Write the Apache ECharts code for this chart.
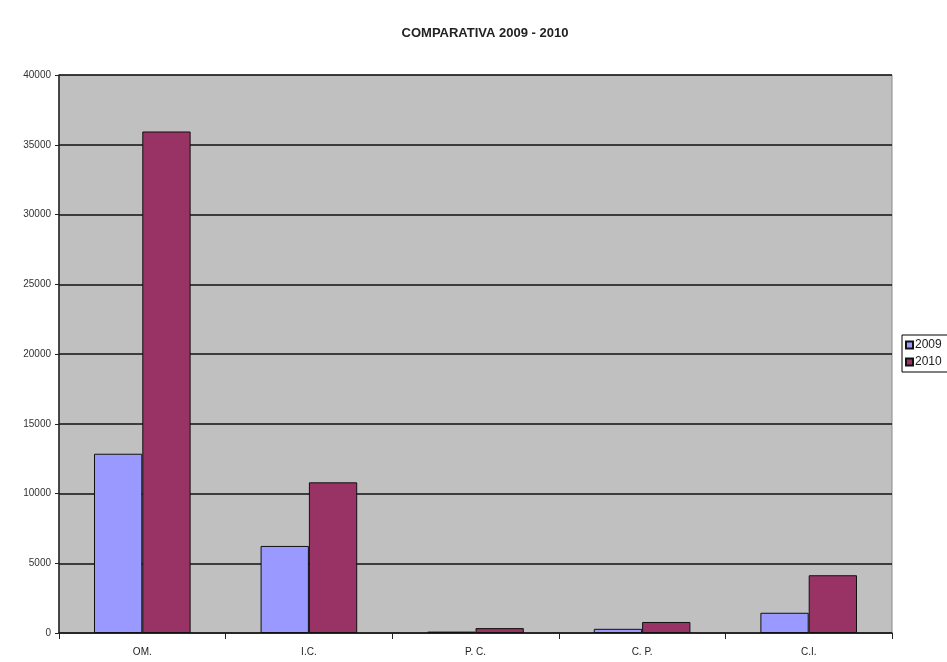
<!DOCTYPE html>
<html>
<head>
<meta charset="utf-8">
<script src="https://cdn.jsdelivr.net/npm/echarts@6/dist/echarts.min.js"></script>
<style>
  html, body { margin: 0; padding: 0; background: #ffffff; overflow: hidden; }
  #chart { width: 947px; height: 662px; }
</style>
</head>
<body>
<div id="chart"></div>
<script>
// Categories and yearly totals
const categories = ['OM.', 'I.C.', 'P. C.', 'C. P.', 'C.I.'];
const values2009 = [12850, 6240, 100, 300, 1450];
const values2010 = [35950, 10800, 350, 790, 4140];
const seriesNames = ['2009', '2010'];
const yTicks = [0, 5000, 10000, 15000, 20000, 25000, 30000, 35000, 40000];

const chart = echarts.init(document.getElementById('chart'), null, { renderer: 'canvas' });

const font = '"Liberation Sans Narrow", "Liberation Sans", Arial, sans-serif';

chart.setOption({
  animation: false,
  backgroundColor: '#ffffff',
  title: {
    text: 'COMPARATIVA 2009 - 2010',
    left: 480,
    textAlign: 'center',
    top: 22,
    textStyle: { fontFamily: font, fontSize: 13, fontWeight: 'bold', color: '#222' }
  },
  legend: {
    data: seriesNames,
    orient: 'vertical',
    left: 902,
    top: 335,
    itemWidth: 7,
    itemHeight: 7,
    itemGap: 5,
    padding: [4, 12, 4, 3],
    borderColor: '#000',
    borderWidth: 1,
    icon: 'rect',
    textStyle: { fontFamily: font, fontSize: 12, color: '#222', padding: [0, 0, 0, -3] }
  },
  grid: {
    left: 59,
    right: 55,
    top: 75,
    bottom: 29,
    show: true,
    backgroundColor: '#c0c0c0',
    borderColor: '#8a8a8a',
    borderWidth: 1
  },
  xAxis: {
    type: 'category',
    data: categories,
    axisLine: { lineStyle: { color: '#222', width: 1.5 } },
    axisTick: { show: true, length: 6, lineStyle: { color: '#222' } },
    axisLabel: { fontFamily: font, fontSize: 10, color: '#222', margin: 14 }
  },
  yAxis: {
    type: 'value',
    min: yTicks[0],
    max: yTicks[yTicks.length - 1],
    interval: yTicks[1] - yTicks[0],
    axisLine: { show: true, lineStyle: { color: '#222', width: 1.5 } },
    axisTick: { show: true, length: 4, lineStyle: { color: '#222' } },
    axisLabel: {
      fontFamily: font, fontSize: 10, color: '#333', margin: 8,
      formatter: (v) => String(v)
    },
    splitLine: { show: true, lineStyle: { color: '#111', width: 1.5 } }
  },
  series: [
    {
      name: seriesNames[0],
      type: 'bar',
      data: values2009,
      barGap: '0%',
      barCategoryGap: '42%',
      itemStyle: { color: '#9999ff', borderColor: '#111', borderWidth: 1 }
    },
    {
      name: seriesNames[1],
      type: 'bar',
      data: values2010,
      barGap: '0%',
      barCategoryGap: '42%',
      itemStyle: { color: '#993366', borderColor: '#111', borderWidth: 1 }
    }
  ]
});
</script>
</body>
</html>
